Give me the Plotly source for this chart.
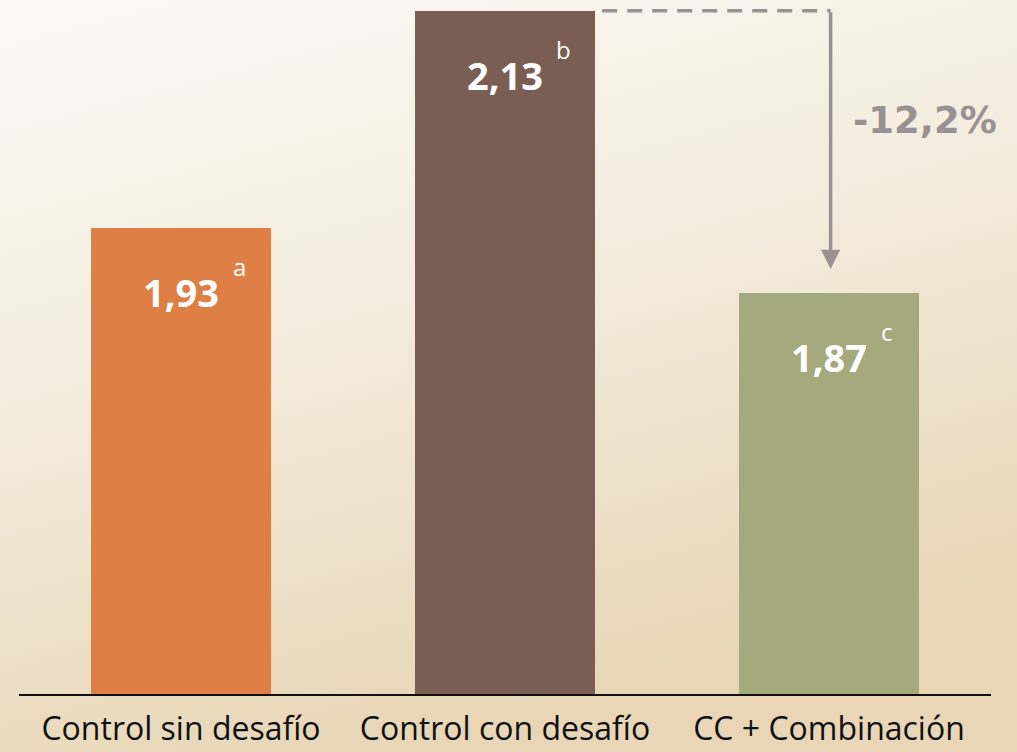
import base64
import plotly.graph_objects as go

# Feed conversion values per treatment
categories = ["Control sin desafío", "Control con desafío", "CC + Combinación"]
values = [1.93, 2.13, 1.87]
value_labels = ["1,93", "2,13", "1,87"]
letters = ["a", "b", "c"]
bar_colors = ["#DE7F46", "#7A5E54", "#A4AA7E"]
change_label = "-12,2%"

# Soft cream-to-tan backdrop as an inline SVG gradient
svg = (
    '<svg xmlns="http://www.w3.org/2000/svg" width="1017" height="752">'
    '<defs><linearGradient id="g" x1="0" y1="0" x2="0.35" y2="1">'
    '<stop offset="0" stop-color="#FCFAF6"/>'
    '<stop offset="0.5" stop-color="#F3EBDC"/>'
    '<stop offset="1" stop-color="#E8D6B7"/>'
    '</linearGradient></defs>'
    '<rect width="1017" height="752" fill="url(#g)"/></svg>'
)
bg_uri = "data:image/svg+xml;base64," + base64.b64encode(svg.encode()).decode()

fig = go.Figure()
fig.add_trace(go.Bar(
    x=list(range(len(categories))),
    y=values,
    base=0,
    marker=dict(color=bar_colors, line=dict(width=0)),
    width=0.556,
    hoverinfo="skip",
))

annotations = []
for i, (v, lab, let) in enumerate(zip(values, value_labels, letters)):
    annotations.append(dict(
        x=i, y=v, xref="x", yref="y", text=f"<b>{lab}</b>", showarrow=False,
        font=dict(family="Open Sans", size=38, color="white"),
        xanchor="center", yanchor="middle", yshift=-64, xshift=0,
    ))
    annotations.append(dict(
        x=i, y=v, xref="x", yref="y", text=let, showarrow=False,
        font=dict(family="Open Sans", size=24, color="white"),
        xanchor="center", yanchor="middle", yshift=-39, xshift=58,
    ))

# Arrow from the challenged control down to the combination treatment
x_start = 1.30
x_turn = 2.005
annotations.append(dict(
    x=x_turn, y=values[2] + 0.022, ax=x_turn, ay=values[1],
    xref="x", yref="y", axref="x", ayref="y",
    showarrow=True, arrowhead=2, arrowsize=1.1, arrowwidth=3.5,
    arrowcolor="#9A9192", text="",
))
annotations.append(dict(
    x=x_turn, y=values[1], xref="x", yref="y", text=f"<b>{change_label}</b>",
    showarrow=False, font=dict(family="DejaVu Sans", size=37, color="#9A9192"),
    xanchor="left", yanchor="middle", xshift=20, yshift=-110,
))

shapes = [
    dict(type="line", xref="x", yref="y", x0=x_start, x1=x_turn, y0=values[1], y1=values[1],
         line=dict(color="#9A9192", width=3.5, dash="15px,10px")),
]

fig.update_layout(
    width=1017, height=752,
    margin=dict(l=19, r=26, t=0, b=58),
    paper_bgcolor="rgba(0,0,0,0)", plot_bgcolor="rgba(0,0,0,0)",
    showlegend=False,
    bargap=0,
    images=[dict(source=bg_uri, xref="paper", yref="paper", x=-19/972, y=1,
                 sizex=1017/972, sizey=752/694, sizing="stretch",
                 xanchor="left", yanchor="top", layer="below")],
    xaxis=dict(
        range=[-0.5, 2.5], tickmode="array", tickvals=list(range(len(categories))),
        ticktext=categories, showgrid=False, zeroline=False,
        showline=True, linecolor="#111111", linewidth=2,
        ticks="", ticklabelstandoff=6, automargin=False,
        tickfont=dict(family="Open Sans", size=32, color="#111111"),
    ),
    yaxis=dict(range=[1.5, 2.14], visible=False, showgrid=False, zeroline=False,
               automargin=False),
    annotations=annotations,
    shapes=shapes,
)

fig.write_html("out.html")
